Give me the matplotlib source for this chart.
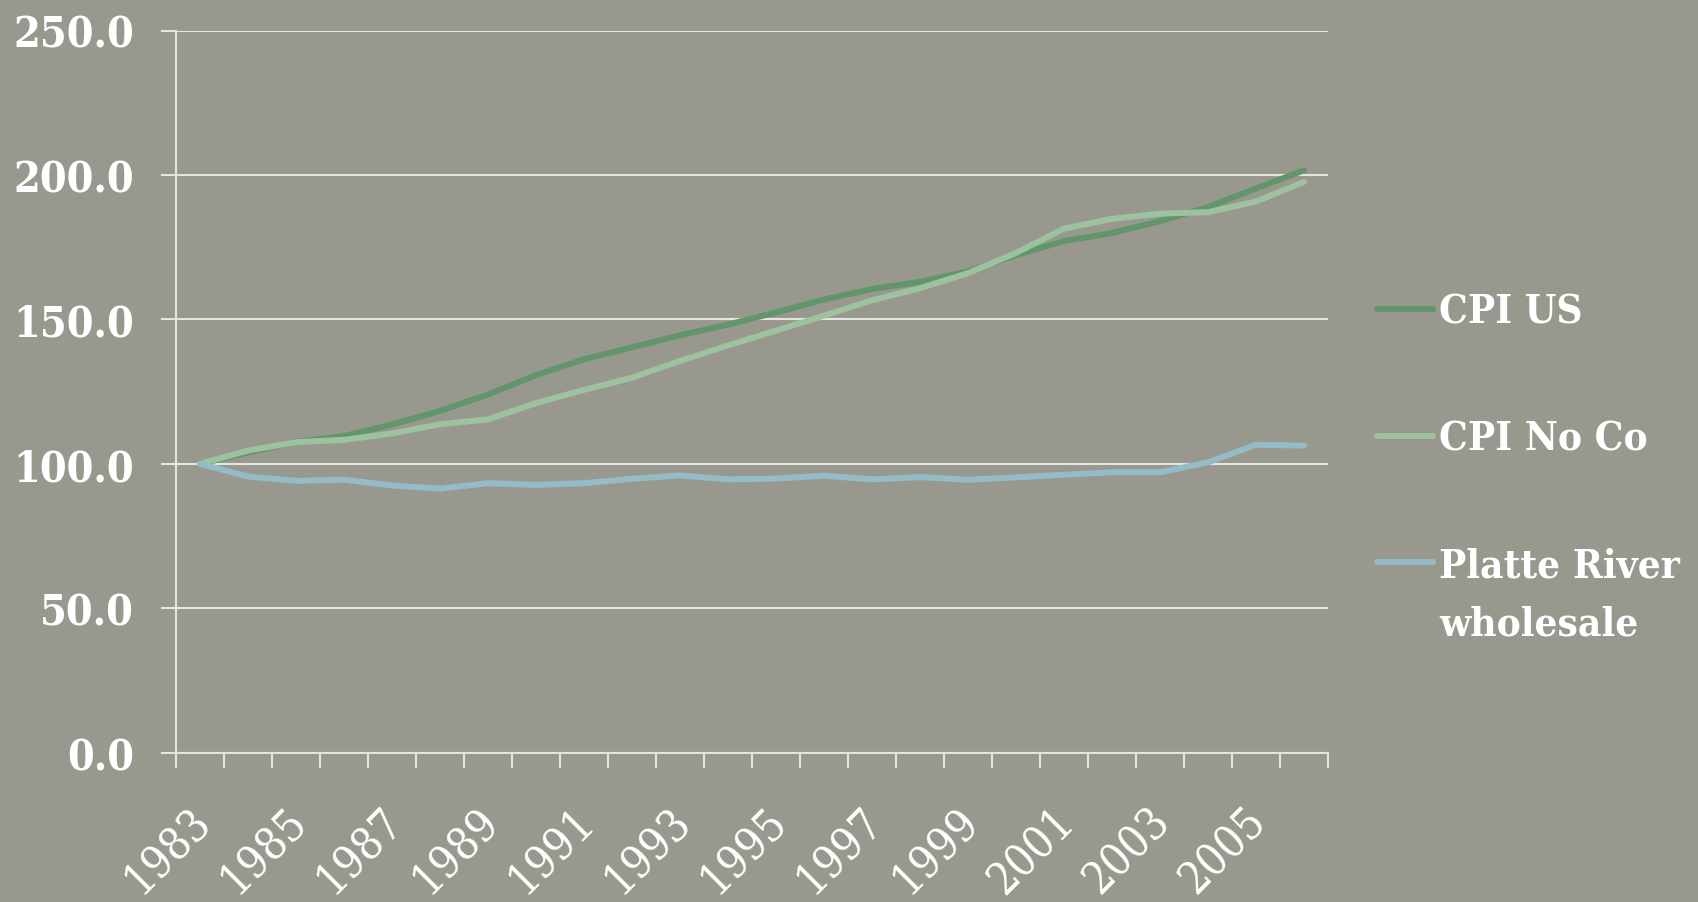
import numpy as np
import matplotlib.pyplot as plt
from matplotlib.transforms import ScaledTranslation, IdentityTransform


years = np.arange(1983, 2007)
cpi_us = [100.0, 103.9, 107.6, 109.6, 113.6, 118.3, 124.0, 130.7, 136.2, 140.3, 144.5, 148.2,
          152.4, 156.9, 160.5, 163.0, 166.6, 172.2, 177.1, 179.9, 184.0, 188.9, 195.3, 201.6]
cpi_noco = [100.0, 104.6, 107.5, 108.3, 110.5, 113.7, 115.4, 121.0, 125.6, 129.8, 135.6, 141.0,
            146.1, 151.3, 156.6, 160.8, 166.0, 173.0, 181.4, 184.8, 186.6, 187.1, 190.8, 197.6]
platte = [100.0, 95.6, 94.1, 94.5, 92.5, 91.4, 93.3, 92.7, 93.3, 94.8, 96.0, 94.6,
          94.9, 95.9, 94.6, 95.4, 94.5, 95.3, 96.2, 97.1, 97.1, 100.5, 106.6, 106.3]
series_names = ['CPI US', 'CPI No Co', 'Platte River']
series_colors = ['#60966a', '#9cc2a0', '#93bcc7']
y_ticks = [0, 50, 100, 150, 200, 250]

bg = '#99988f'
grid_col = '#e4e4e2'

fig = plt.figure(figsize=(16.99, 9.03), dpi=100, facecolor=bg)
ax = fig.add_axes([176 / 1699, 1 - 753.7 / 903, 1152 / 1699, (753.7 - 31.5) / 903])
ax.set_facecolor(bg)

for vals, name, col in zip([cpi_us, cpi_noco, platte], series_names, series_colors):
    ax.plot(years, vals, color=col, lw=4.3, label=name, solid_joinstyle='round',
            solid_capstyle='round')

ax.set_xlim(years[0] - 0.5, years[-1] + 0.5)
ax.set_ylim(0, 250)

# y axis
ax.set_yticks(y_ticks)
ax.set_yticklabels([f'{v:.1f}' for v in y_ticks])
ax.yaxis.grid(True, color=grid_col, lw=1.5)
ax.set_axisbelow(True)
ax.tick_params(axis='y', length=10.8, width=1.5, color=grid_col, pad=19.5,
               labelcolor='white', labelsize=31)
for lab in ax.get_yticklabels():
    lab.set_family('DejaVu Serif')
    lab.set_weight('bold')
    lab.set_stretch('condensed')

# x axis: tick marks on category edges, labels every other year
ax.set_xticks(np.arange(years[0] - 0.5, years[-1] + 1, 1.0))
ax.set_xticklabels([])
ax.tick_params(axis='x', which='major', length=10.8, width=1.5, color=grid_col)
lab_years = years[::2]
ax.set_xticks(lab_years, [str(y) for y in lab_years], minor=True)
ax.tick_params(axis='x', which='minor', length=0, pad=33, labelcolor='white', labelsize=32)
off = ScaledTranslation(-12 / 100, 0, fig.dpi_scale_trans)
for lab in ax.get_xticklabels(minor=True):
    lab.set_family('DejaVu Serif')
    lab.set_stretch('condensed')
    lab.set_weight('medium')
    lab.set_rotation(45)
    lab.set_ha('right')
    lab.set_va('top')
    lab.set_rotation_mode('anchor')
    lab.set_transform(lab.get_transform() + off)

for s in ['top', 'right']:
    ax.spines[s].set_visible(False)
for s in ['left', 'bottom']:
    ax.spines[s].set_color(grid_col)
    ax.spines[s].set_linewidth(1.5)

leg_font = {'family': 'DejaVu Serif', 'weight': 'bold', 'size': 29, 'stretch': 'condensed'}
leg = ax.legend(loc='upper left', bbox_to_anchor=(1377 / 1699, 1 - 294 / 903),
                bbox_transform=fig.transFigure, frameon=False, borderpad=0,
                borderaxespad=0, handlelength=1.38, handletextpad=0.17,
                labelspacing=2.2, prop=leg_font)
for t in leg.get_texts():
    t.set_color('white')

# second line of the last legend label
fig.canvas.draw()
bb = leg.get_texts()[2].get_window_extent()
fig.text(bb.x0, bb.y0 - 50, 'wholesale', transform=IdentityTransform(), color='white',
         va='baseline', ha='left', **leg_font)

fig.savefig('out.png', dpi=100, facecolor=bg)
